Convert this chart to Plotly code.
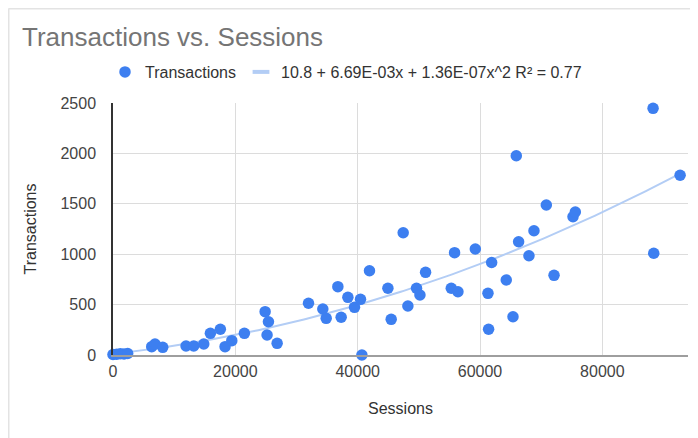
import numpy as np
import plotly.graph_objects as go

sessions = [0, 600, 1200, 1800, 2400, 6330, 6870, 8130, 11940, 13200, 14840, 15920, 17550,
            18320, 19420, 21480, 24870, 25410, 25190, 26830, 31960, 34300, 34850, 36760,
            37300, 38400, 39480, 40460, 40690, 41930, 44940, 45480, 47440, 48210, 49620,
            50180, 51100, 55300, 55840, 56390, 59230, 61300, 61400, 61900, 64290, 65390,
            65930, 66310, 68000, 68820, 70840, 72100, 75200, 75580, 88290, 88400, 92710]
transactions = [5, 8, 12, 10, 15, 83, 109, 76, 89, 89, 109, 215, 255,
                83, 142, 215, 430, 330, 198, 116, 513, 456, 364, 678,
                374, 572, 473, 552, 0, 836, 662, 354, 1213, 486, 662,
                595, 820, 662, 1015, 628, 1052, 612, 255, 918, 744, 380,
                1977, 1124, 985, 1233, 1488, 790, 1372, 1419, 2447, 1009, 1783]

# trendline coefficients as stated in the chart legend
coef_c0, coef_c1, coef_c2 = 10.8, 6.69e-03, 1.36e-07
trend_label = "10.8 + 6.69E-03x + 1.36E-07x^2 R² = 0.77"

x_ticks = [0, 20000, 40000, 60000, 80000]
y_ticks = [0, 500, 1000, 1500, 2000, 2500]

tx = np.linspace(0, max(sessions), 200)
ty = coef_c0 + coef_c1 * tx + coef_c2 * tx ** 2

FONT = "Liberation Sans, Arial, sans-serif"
BLUE = "#3d7ff0"
TREND = "#b3cdf5"

fig = go.Figure()
fig.add_trace(go.Scatter(x=tx, y=ty, mode="lines", line=dict(color=TREND, width=2),
                         showlegend=False, hoverinfo="skip"))
fig.add_trace(go.Scatter(x=sessions, y=transactions, mode="markers", name="Transactions",
                         marker=dict(color=BLUE, size=11.5), cliponaxis=False))
fig.add_trace(go.Scatter(x=[None], y=[None], mode="markers", name=trend_label,
                         marker=dict(symbol="line-ew", size=12,
                                     line=dict(color=TREND, width=4))))

# page is offset by the 8px body margin
OFF = 8
W, H = 698, 438
L, T = 113 - OFF, 103 - OFF
R = W - (688 - OFF)
B = H - (355 - OFF)
pw, ph = W - L - R, H - T - B


def px2paper(px, py):
    # px, py are target page coordinates
    return (px - OFF - L) / pw, (H - B - (py - OFF)) / ph


bx0, by0 = px2paper(OFF + 0.5, OFF + 0.5)
bx1, _ = px2paper(W + OFF, OFF + 0.5)
_, byb = px2paper(OFF + 0.5, H + OFF)

fig.update_layout(
    width=W, height=H,
    margin=dict(l=L, r=R, t=T, b=B, autoexpand=False),
    paper_bgcolor="white", plot_bgcolor="white",
    font=dict(family=FONT, size=16, color="#444"),
    title=dict(text="Transactions vs. Sessions", x=(22 - OFF) / W, xanchor="left",
               y=1 - (37 - OFF) / H, yanchor="middle",
               font=dict(size=26, color="#757575", family=FONT)),
    legend=dict(orientation="h", x=px2paper(105, 0)[0], xanchor="left",
                y=px2paper(0, 72)[1], yanchor="middle",
                font=dict(size=16, color="#333"), bgcolor="rgba(0,0,0,0)"),
    xaxis=dict(range=[0, 94000], tickvals=x_ticks, ticktext=[str(v) for v in x_ticks],
               showgrid=True, gridcolor="#dcdcdc", gridwidth=1, zeroline=False,
               showline=True, linecolor="#9e9e9e", linewidth=1.5,
               ticklabelstandoff=1,
               title=dict(text="Sessions", standoff=24, font=dict(size=16, color="#333")),
               tickfont=dict(size=16, color="#444")),
    yaxis=dict(range=[0, 2500], tickvals=y_ticks, ticktext=[str(v) for v in y_ticks],
               showgrid=True, gridcolor="#dcdcdc", gridwidth=1, zeroline=False,
               showline=True, linecolor="#333", linewidth=1.5,
               ticklabelstandoff=12,
               title=dict(text="Transactions", standoff=20, font=dict(size=16, color="#333")),
               tickfont=dict(size=16, color="#444")),
    shapes=[
        dict(type="line", xref="paper", yref="paper", x0=bx0, y0=by0, x1=bx1, y1=by0,
             line=dict(color="#e3e3e3", width=2), layer="below"),
        dict(type="line", xref="paper", yref="paper", x0=bx0, y0=by0, x1=bx0, y1=byb,
             line=dict(color="#e3e3e3", width=2), layer="below"),
    ],
)

fig.write_html("out.html")
